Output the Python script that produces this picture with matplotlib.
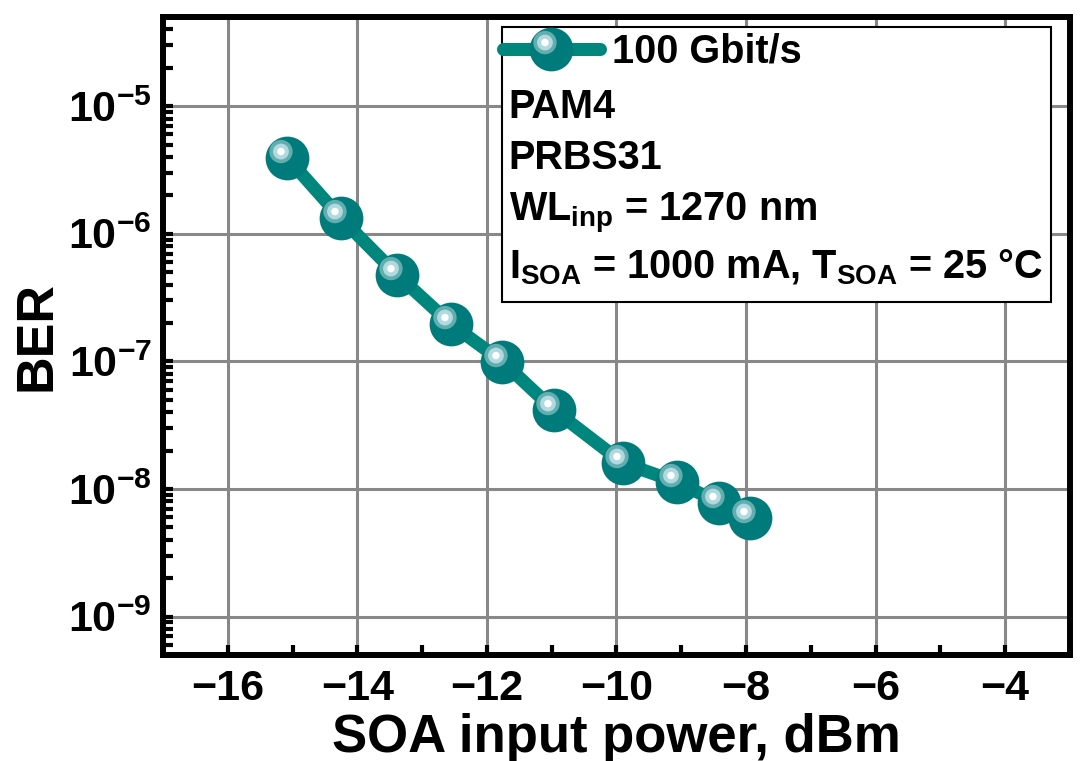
import numpy as np
import matplotlib
matplotlib.use('Agg')
import matplotlib.pyplot as plt
from matplotlib.path import Path
from matplotlib.patches import Rectangle
from matplotlib.legend_handler import HandlerTuple
from matplotlib.ticker import MultipleLocator, FixedLocator, NullFormatter

plt.rcParams['font.family'] = ['Liberation Sans', 'DejaVu Sans']
plt.rcParams['font.weight'] = 'bold'
plt.rcParams['mathtext.fontset'] = 'custom'
plt.rcParams['mathtext.rm'] = 'Liberation Sans:bold'
plt.rcParams['mathtext.it'] = 'Liberation Sans:bold'
plt.rcParams['mathtext.bf'] = 'Liberation Sans:bold'
plt.rcParams['mathtext.default'] = 'rm'

# data
power_dbm = [-15.08, -14.25, -13.39, -12.56, -11.76, -10.96, -9.90, -9.07, -8.41, -7.94]
ber = [3.93e-6, 1.32e-6, 4.79e-7, 1.97e-7, 9.95e-8, 4.14e-8, 1.60e-8, 1.135e-8, 7.78e-9, 5.97e-9]
series_label = '100 Gbit/s'
info_lines = ['PAM4', 'PRBS31', 'WL$_{inp}$ = 1270 nm',
              'I$_{SOA}$ = 1000 mA, T$_{SOA}$ = 25 °C']
y_exponents = [-9, -8, -7, -6, -5]

teal = '#007B7B'
line_col = '#00877D'


def spot_marker(cx, cy, r):
    # circle offset from the marker centre, sized in points
    p = Path.circle((cx, cy), r)
    return p, 2 * np.max(np.abs(p.vertices))


rings = [(spot_marker(-4.7, 5.0, 8.4), '#62AEAE'),
         (spot_marker(-4.7, 5.0, 5.7), '#B0D9E0'),
         (spot_marker(-4.7, 5.0, 2.7), '#FFFFFF')]

fig, ax = plt.subplots(figsize=(10.91, 7.61), dpi=100)
fig.subplots_adjust(left=0.1494, right=0.9807, top=0.9777, bottom=0.1393)

line, = ax.plot(power_dbm, ber, color=line_col, lw=9.4, solid_capstyle='round',
                solid_joinstyle='round', zorder=2)

handles = [line]
for i in range(len(power_dbm)):
    s, = ax.plot(power_dbm[i], ber[i], 'o', ms=31.5, color=teal, mew=0, zorder=3)
    if i == 0:
        handles.append(s)
    for (path, size), col in rings:
        h, = ax.plot(power_dbm[i], ber[i], ls='none', marker=path, ms=size,
                     color=col, mew=0, zorder=3)
        if i == 0:
            handles.append(h)

ax.set_yscale('log')
ax.set_xlim(-17, -3)
ax.set_ylim(5e-10, 5e-5)
ax.xaxis.set_major_locator(MultipleLocator(2))
ax.xaxis.set_minor_locator(MultipleLocator(1))

major_y = [10.0 ** e for e in y_exponents]
minor_y = [m * 10.0 ** e for e in range(-10, -4) for m in range(2, 10)
           if 5e-10 <= m * 10.0 ** e <= 5e-5]
ax.yaxis.set_major_locator(FixedLocator(major_y))
ax.yaxis.set_minor_locator(FixedLocator(minor_y))
ax.set_yticklabels([r'$10^{%d}$' % e for e in y_exponents])
ax.yaxis.set_minor_formatter(NullFormatter())

ax.grid(True, which='major', color='#888888', lw=2.2)
ax.set_axisbelow(True)
for sp in ax.spines.values():
    sp.set_linewidth(4.3)

ax.tick_params(which='both', direction='in', length=7, width=3, top=False, right=False)
ax.tick_params(axis='both', which='major', labelsize=31)
ax.tick_params(axis='x', pad=10)
ax.tick_params(axis='y', pad=8)

ax.set_xlabel('SOA input power, dBm', fontsize=38, fontweight='bold', labelpad=3)
ax.set_ylabel('BER', fontsize=37.5, fontweight='bold', labelpad=5)

# legend box
ax.add_patch(Rectangle((0.3738, 0.5533), 0.979 - 0.3738, 0.9843 - 0.5533,
                       transform=ax.transAxes, facecolor='white', edgecolor='black',
                       lw=1.5, zorder=4))
leg = ax.legend([tuple(handles)], [series_label],
                handler_map={tuple: HandlerTuple(ndivide=1, pad=0)},
                loc='center left', bbox_to_anchor=(0.3749, 0.9451), frameon=False,
                fontsize=28.5, handlelength=2.45, handletextpad=0.3, borderpad=0,
                borderaxespad=0, numpoints=1)
leg.set_zorder(5)

ys = [0.8417, 0.7618, 0.6818, 0.5909]
for txt, yy in zip(info_lines, ys):
    ax.text(0.381, yy, txt, transform=ax.transAxes, fontsize=28.5, fontweight='bold',
            va='baseline', ha='left', zorder=6)

fig.savefig('out.png', dpi=100)
